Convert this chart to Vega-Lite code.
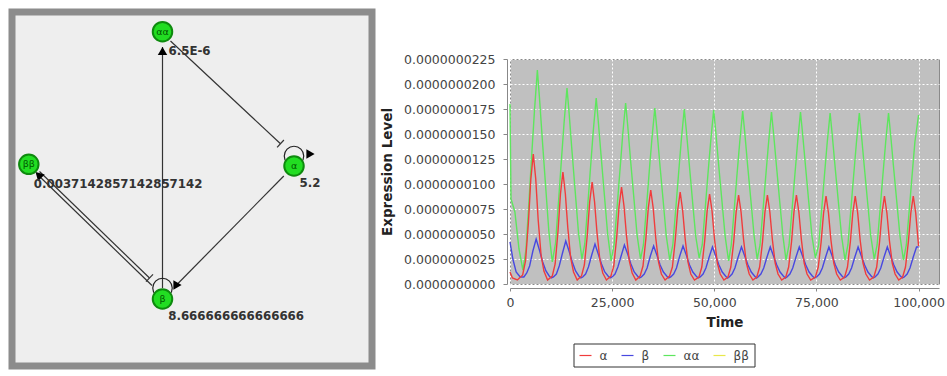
{
"$schema": "https://vega.github.io/schema/vega-lite/v6.json",
"background": "white",
"padding": {"left": 8, "top": 8, "right": 0, "bottom": 0},
"config": {"view": {"stroke": null}, "font": "DejaVu Sans"},
"datasets": {
"nodes": [
{"id":"αα","x":150.5,"y":19.7},{"id":"ββ","x":16.8,"y":152.3},{"id":"α","x":282,"y":154},{"id":"β","x":150.5,"y":287}],
"vals": [
{"txt":"6.5E-6","x":156.5,"y":39},{"txt":"0.0037142857142857142","x":21.8,"y":171.7},{"txt":"5.2","x":287.5,"y":171},{"txt":"8.666666666666666","x":156.2,"y":304}],
"edges": [
{"x1":150.5,"y1":276,"x2":150.5,"y2":35},
{"x1":158.5,"y1":29,"x2":268.5,"y2":131.7},
{"x1":265.1,"y1":135.4,"x2":271.9,"y2":128.0},
{"x1":271.8,"y1":164,"x2":163.5,"y2":274},
{"x1":25,"y1":162,"x2":140,"y2":273.5},
{"x1":27.5,"y1":159.5,"x2":137.5,"y2":266},
{"x1":134,"y1":269.6,"x2":141,"y2":262.4}],
"loops": [{"x":282,"y":144},{"x":150.5,"y":276}],
"arrows": [{"x":150.5,"y":39,"a":0},{"x":298.5,"y":142,"a":90},{"x":165.5,"y":273,"a":90},{"x":26.5,"y":163,"a":315}],
"green": [
{"t":0,"v":1.80e-8},{"t":250,"v":0.85e-8},{"t":1200,"v":0.72e-8},{"t":2200,"v":0.35e-8},{"t":3150,"v":0.14e-8},{"t":3900,"v":0.34e-8},{"t":4600,"v":0.80e-8},{"t":5300,"v":1.28e-8},{"t":6000,"v":1.74e-8},{"t":6700,"v":2.14e-8},{"t":7200,"v":1.87e-8},{"t":7900,"v":1.45e-8},{"t":8700,"v":0.99e-8},{"t":9500,"v":0.53e-8},{"t":10350,"v":0.22e-8},
{"t":11150,"v":0.41e-8},{"t":11850,"v":0.81e-8},{"t":12550,"v":1.22e-8},{"t":13250,"v":1.62e-8},{"t":13950,"v":1.96e-8},{"t":14450,"v":1.72e-8},{"t":15150,"v":1.34e-8},{"t":15950,"v":0.93e-8},{"t":16750,"v":0.52e-8},{"t":17600,"v":0.25e-8},
{"t":18300,"v":0.40e-8},{"t":19000,"v":0.77e-8},{"t":19700,"v":1.16e-8},{"t":20400,"v":1.54e-8},{"t":21100,"v":1.86e-8},{"t":21600,"v":1.63e-8},{"t":22300,"v":1.28e-8},{"t":23100,"v":0.89e-8},{"t":23900,"v":0.50e-8},{"t":24750,"v":0.23e-8},
{"t":25500,"v":0.40e-8},{"t":26200,"v":0.76e-8},{"t":26900,"v":1.13e-8},{"t":27600,"v":1.50e-8},{"t":28300,"v":1.81e-8},{"t":28800,"v":1.59e-8},{"t":29500,"v":1.24e-8},{"t":30300,"v":0.87e-8},{"t":31100,"v":0.49e-8},{"t":31950,"v":0.25e-8},
{"t":32650,"v":0.39e-8},{"t":33350,"v":0.74e-8},{"t":34050,"v":1.11e-8},{"t":34750,"v":1.46e-8},{"t":35450,"v":1.76e-8},{"t":35950,"v":1.55e-8},{"t":36650,"v":1.21e-8},{"t":37450,"v":0.85e-8},{"t":38250,"v":0.48e-8},{"t":39100,"v":0.24e-8},
{"t":39850,"v":0.39e-8},{"t":40550,"v":0.74e-8},{"t":41250,"v":1.10e-8},{"t":41950,"v":1.45e-8},{"t":42650,"v":1.75e-8},{"t":43150,"v":1.54e-8},{"t":43850,"v":1.21e-8},{"t":44650,"v":0.84e-8},{"t":45450,"v":0.48e-8},{"t":46300,"v":0.26e-8},
{"t":47050,"v":0.39e-8},{"t":47750,"v":0.74e-8},{"t":48450,"v":1.10e-8},{"t":49150,"v":1.44e-8},{"t":49850,"v":1.74e-8},{"t":50350,"v":1.53e-8},{"t":51050,"v":1.20e-8},{"t":51850,"v":0.84e-8},{"t":52650,"v":0.48e-8},{"t":53500,"v":0.23e-8},
{"t":54150,"v":0.39e-8},{"t":54850,"v":0.73e-8},{"t":55550,"v":1.09e-8},{"t":56250,"v":1.43e-8},{"t":56950,"v":1.73e-8},{"t":57450,"v":1.52e-8},{"t":58150,"v":1.19e-8},{"t":58950,"v":0.84e-8},{"t":59750,"v":0.48e-8},{"t":60500,"v":0.25e-8},
{"t":61200,"v":0.39e-8},{"t":61900,"v":0.73e-8},{"t":62600,"v":1.08e-8},{"t":63300,"v":1.42e-8},{"t":64000,"v":1.72e-8},{"t":64500,"v":1.51e-8},{"t":65200,"v":1.19e-8},{"t":66000,"v":0.83e-8},{"t":66800,"v":0.48e-8},{"t":67550,"v":0.24e-8},
{"t":68300,"v":0.39e-8},{"t":69000,"v":0.73e-8},{"t":69700,"v":1.08e-8},{"t":70400,"v":1.42e-8},{"t":71100,"v":1.72e-8},{"t":71600,"v":1.51e-8},{"t":72300,"v":1.19e-8},{"t":73100,"v":0.83e-8},{"t":73900,"v":0.48e-8},{"t":74750,"v":0.26e-8},
{"t":75550,"v":0.39e-8},{"t":76250,"v":0.73e-8},{"t":76950,"v":1.08e-8},{"t":77650,"v":1.42e-8},{"t":78350,"v":1.71e-8},{"t":78850,"v":1.50e-8},{"t":79550,"v":1.18e-8},{"t":80350,"v":0.83e-8},{"t":81150,"v":0.48e-8},{"t":82000,"v":0.24e-8},
{"t":82700,"v":0.39e-8},{"t":83400,"v":0.73e-8},{"t":84100,"v":1.08e-8},{"t":84800,"v":1.42e-8},{"t":85500,"v":1.71e-8},{"t":86000,"v":1.50e-8},{"t":86700,"v":1.18e-8},{"t":87500,"v":0.83e-8},{"t":88300,"v":0.48e-8},{"t":89150,"v":0.25e-8},
{"t":89850,"v":0.39e-8},{"t":90550,"v":0.73e-8},{"t":91250,"v":1.08e-8},{"t":91950,"v":1.42e-8},{"t":92650,"v":1.71e-8},{"t":93150,"v":1.50e-8},{"t":93850,"v":1.18e-8},{"t":94650,"v":0.83e-8},{"t":95450,"v":0.48e-8},{"t":96300,"v":0.24e-8},
{"t":97000,"v":0.39e-8},{"t":97700,"v":0.73e-8},{"t":98400,"v":1.08e-8},{"t":99100,"v":1.42e-8},{"t":100000,"v":1.69e-8}],
"red": [
{"t":0,"v":0.12e-8},{"t":600,"v":0.06e-8},{"t":1800,"v":0.04e-8},{"t":3100,"v":0.09e-8},{"t":3800,"v":0.23e-8},{"t":4500,"v":0.61e-8},{"t":5100,"v":1.05e-8},{"t":5700,"v":1.30e-8},{"t":6300,"v":1.05e-8},{"t":6900,"v":0.64e-8},{"t":7600,"v":0.29e-8},{"t":8300,"v":0.13e-8},{"t":9200,"v":0.04e-8},
{"t":10350,"v":0.08e-8},{"t":11050,"v":0.20e-8},{"t":11750,"v":0.53e-8},{"t":12350,"v":0.90e-8},{"t":12950,"v":1.12e-8},{"t":13550,"v":0.90e-8},{"t":14150,"v":0.56e-8},{"t":14850,"v":0.26e-8},{"t":15550,"v":0.12e-8},{"t":16450,"v":0.04e-8},
{"t":17500,"v":0.08e-8},{"t":18200,"v":0.19e-8},{"t":18900,"v":0.48e-8},{"t":19500,"v":0.82e-8},{"t":20100,"v":1.02e-8},{"t":20700,"v":0.82e-8},{"t":21300,"v":0.51e-8},{"t":22000,"v":0.24e-8},{"t":22700,"v":0.11e-8},{"t":23600,"v":0.04e-8},
{"t":24700,"v":0.08e-8},{"t":25400,"v":0.18e-8},{"t":26100,"v":0.46e-8},{"t":26700,"v":0.78e-8},{"t":27300,"v":0.97e-8},{"t":27900,"v":0.78e-8},{"t":28500,"v":0.49e-8},{"t":29200,"v":0.23e-8},{"t":29900,"v":0.11e-8},{"t":30800,"v":0.04e-8},
{"t":31850,"v":0.08e-8},{"t":32550,"v":0.18e-8},{"t":33250,"v":0.45e-8},{"t":33850,"v":0.76e-8},{"t":34450,"v":0.94e-8},{"t":35050,"v":0.76e-8},{"t":35650,"v":0.47e-8},{"t":36350,"v":0.22e-8},{"t":37050,"v":0.10e-8},{"t":37950,"v":0.04e-8},
{"t":39050,"v":0.08e-8},{"t":39750,"v":0.17e-8},{"t":40450,"v":0.44e-8},{"t":41050,"v":0.74e-8},{"t":41650,"v":0.92e-8},{"t":42250,"v":0.74e-8},{"t":42850,"v":0.46e-8},{"t":43550,"v":0.22e-8},{"t":44250,"v":0.10e-8},{"t":45150,"v":0.04e-8},
{"t":46250,"v":0.07e-8},{"t":46950,"v":0.17e-8},{"t":47650,"v":0.43e-8},{"t":48250,"v":0.73e-8},{"t":48850,"v":0.90e-8},{"t":49450,"v":0.73e-8},{"t":50050,"v":0.45e-8},{"t":50750,"v":0.21e-8},{"t":51450,"v":0.10e-8},{"t":52350,"v":0.04e-8},
{"t":53350,"v":0.07e-8},{"t":54050,"v":0.17e-8},{"t":54750,"v":0.42e-8},{"t":55350,"v":0.72e-8},{"t":55950,"v":0.89e-8},{"t":56550,"v":0.72e-8},{"t":57150,"v":0.45e-8},{"t":57850,"v":0.21e-8},{"t":58550,"v":0.10e-8},{"t":59450,"v":0.04e-8},
{"t":60400,"v":0.07e-8},{"t":61100,"v":0.17e-8},{"t":61800,"v":0.42e-8},{"t":62400,"v":0.72e-8},{"t":63000,"v":0.89e-8},{"t":63600,"v":0.72e-8},{"t":64200,"v":0.45e-8},{"t":64900,"v":0.21e-8},{"t":65600,"v":0.10e-8},{"t":66500,"v":0.04e-8},
{"t":67500,"v":0.07e-8},{"t":68200,"v":0.17e-8},{"t":68900,"v":0.42e-8},{"t":69500,"v":0.72e-8},{"t":70100,"v":0.89e-8},{"t":70700,"v":0.72e-8},{"t":71300,"v":0.45e-8},{"t":72000,"v":0.21e-8},{"t":72700,"v":0.10e-8},{"t":73600,"v":0.04e-8},
{"t":74750,"v":0.07e-8},{"t":75450,"v":0.17e-8},{"t":76150,"v":0.42e-8},{"t":76750,"v":0.71e-8},{"t":77350,"v":0.88e-8},{"t":77950,"v":0.71e-8},{"t":78550,"v":0.44e-8},{"t":79250,"v":0.21e-8},{"t":79950,"v":0.10e-8},{"t":80850,"v":0.04e-8},
{"t":81900,"v":0.07e-8},{"t":82600,"v":0.17e-8},{"t":83300,"v":0.42e-8},{"t":83900,"v":0.71e-8},{"t":84500,"v":0.88e-8},{"t":85100,"v":0.71e-8},{"t":85700,"v":0.44e-8},{"t":86400,"v":0.21e-8},{"t":87100,"v":0.10e-8},{"t":88000,"v":0.04e-8},
{"t":89050,"v":0.07e-8},{"t":89750,"v":0.17e-8},{"t":90450,"v":0.42e-8},{"t":91050,"v":0.71e-8},{"t":91650,"v":0.88e-8},{"t":92250,"v":0.71e-8},{"t":92850,"v":0.44e-8},{"t":93550,"v":0.21e-8},{"t":94250,"v":0.10e-8},{"t":95150,"v":0.04e-8},
{"t":96100,"v":0.07e-8},{"t":96800,"v":0.17e-8},{"t":97500,"v":0.42e-8},{"t":98100,"v":0.71e-8},{"t":98700,"v":0.88e-8},{"t":99300,"v":0.71e-8},{"t":100000,"v":0.38e-8}],
"blue": [
{"t":0,"v":0.42e-8},{"t":700,"v":0.25e-8},{"t":1500,"v":0.12e-8},{"t":2500,"v":0.07e-8},{"t":3400,"v":0.07e-8},{"t":4100,"v":0.11e-8},{"t":4800,"v":0.18e-8},{"t":5600,"v":0.33e-8},{"t":6400,"v":0.45e-8},{"t":7200,"v":0.34e-8},{"t":8000,"v":0.22e-8},{"t":8800,"v":0.13e-8},{"t":9600,"v":0.08e-8},{"t":10100,"v":0.06e-8},
{"t":10650,"v":0.07e-8},{"t":11350,"v":0.10e-8},{"t":12050,"v":0.18e-8},{"t":12850,"v":0.31e-8},{"t":13650,"v":0.43e-8},{"t":14450,"v":0.33e-8},{"t":15250,"v":0.22e-8},{"t":16050,"v":0.13e-8},{"t":16850,"v":0.08e-8},{"t":17350,"v":0.06e-8},
{"t":17800,"v":0.07e-8},{"t":18500,"v":0.10e-8},{"t":19200,"v":0.17e-8},{"t":20000,"v":0.29e-8},{"t":20800,"v":0.40e-8},{"t":21600,"v":0.30e-8},{"t":22400,"v":0.20e-8},{"t":23200,"v":0.12e-8},{"t":24000,"v":0.08e-8},{"t":24500,"v":0.06e-8},
{"t":25000,"v":0.07e-8},{"t":25700,"v":0.10e-8},{"t":26400,"v":0.17e-8},{"t":27200,"v":0.28e-8},{"t":28000,"v":0.39e-8},{"t":28800,"v":0.30e-8},{"t":29600,"v":0.20e-8},{"t":30400,"v":0.12e-8},{"t":31200,"v":0.08e-8},{"t":31700,"v":0.06e-8},
{"t":32150,"v":0.07e-8},{"t":32850,"v":0.10e-8},{"t":33550,"v":0.16e-8},{"t":34350,"v":0.28e-8},{"t":35150,"v":0.38e-8},{"t":35950,"v":0.29e-8},{"t":36750,"v":0.19e-8},{"t":37550,"v":0.12e-8},{"t":38350,"v":0.08e-8},{"t":38850,"v":0.06e-8},
{"t":39350,"v":0.07e-8},{"t":40050,"v":0.10e-8},{"t":40750,"v":0.16e-8},{"t":41550,"v":0.28e-8},{"t":42350,"v":0.38e-8},{"t":43150,"v":0.29e-8},{"t":43950,"v":0.19e-8},{"t":44750,"v":0.12e-8},{"t":45550,"v":0.08e-8},{"t":46050,"v":0.06e-8},
{"t":46550,"v":0.07e-8},{"t":47250,"v":0.10e-8},{"t":47950,"v":0.16e-8},{"t":48750,"v":0.27e-8},{"t":49550,"v":0.37e-8},{"t":50350,"v":0.28e-8},{"t":51150,"v":0.19e-8},{"t":51950,"v":0.12e-8},{"t":52750,"v":0.08e-8},{"t":53250,"v":0.06e-8},
{"t":53650,"v":0.07e-8},{"t":54350,"v":0.10e-8},{"t":55050,"v":0.16e-8},{"t":55850,"v":0.27e-8},{"t":56650,"v":0.37e-8},{"t":57450,"v":0.28e-8},{"t":58250,"v":0.19e-8},{"t":59050,"v":0.12e-8},{"t":59850,"v":0.08e-8},{"t":60350,"v":0.06e-8},
{"t":60700,"v":0.07e-8},{"t":61400,"v":0.10e-8},{"t":62100,"v":0.16e-8},{"t":62900,"v":0.27e-8},{"t":63700,"v":0.37e-8},{"t":64500,"v":0.28e-8},{"t":65300,"v":0.19e-8},{"t":66100,"v":0.12e-8},{"t":66900,"v":0.08e-8},{"t":67400,"v":0.06e-8},
{"t":67800,"v":0.07e-8},{"t":68500,"v":0.10e-8},{"t":69200,"v":0.16e-8},{"t":70000,"v":0.27e-8},{"t":70800,"v":0.37e-8},{"t":71600,"v":0.28e-8},{"t":72400,"v":0.19e-8},{"t":73200,"v":0.12e-8},{"t":74000,"v":0.08e-8},{"t":74500,"v":0.06e-8},
{"t":75050,"v":0.07e-8},{"t":75750,"v":0.10e-8},{"t":76450,"v":0.16e-8},{"t":77250,"v":0.27e-8},{"t":78050,"v":0.37e-8},{"t":78850,"v":0.28e-8},{"t":79650,"v":0.19e-8},{"t":80450,"v":0.12e-8},{"t":81250,"v":0.08e-8},{"t":81750,"v":0.06e-8},
{"t":82200,"v":0.07e-8},{"t":82900,"v":0.10e-8},{"t":83600,"v":0.16e-8},{"t":84400,"v":0.27e-8},{"t":85200,"v":0.37e-8},{"t":86000,"v":0.28e-8},{"t":86800,"v":0.19e-8},{"t":87600,"v":0.12e-8},{"t":88400,"v":0.08e-8},{"t":88900,"v":0.06e-8},
{"t":89350,"v":0.07e-8},{"t":90050,"v":0.10e-8},{"t":90750,"v":0.16e-8},{"t":91550,"v":0.27e-8},{"t":92350,"v":0.37e-8},{"t":93150,"v":0.28e-8},{"t":93950,"v":0.19e-8},{"t":94750,"v":0.12e-8},{"t":95550,"v":0.08e-8},{"t":96050,"v":0.06e-8},
{"t":96500,"v":0.07e-8},{"t":97200,"v":0.10e-8},{"t":97900,"v":0.16e-8},{"t":98700,"v":0.27e-8},{"t":99500,"v":0.37e-8},{"t":100000,"v":0.37e-8}]
},
"spacing": 4,
"hconcat": [
{
"width": 360, "height": 354,
"view": {"fill": "#eeeeee", "stroke": "#8c8c8c", "strokeWidth": 7},
"encoding": {
"x": {"field": "x", "type": "quantitative", "scale": {"domain": [0, 360], "nice": false, "zero": false}, "axis": null},
"y": {"field": "y", "type": "quantitative", "scale": {"domain": [0, 354], "nice": false, "zero": false, "reverse": true}, "axis": null}
},
"layer": [
{"data": {"name": "edges"}, "mark": {"type": "rule", "color": "#333333", "strokeWidth": 1.2},
 "encoding": {"x": {"field": "x1", "type": "quantitative"}, "y": {"field": "y1", "type": "quantitative"}, "x2": {"field": "x2"}, "y2": {"field": "y2"}}},
{"data": {"name": "loops"}, "mark": {"type": "point", "shape": "circle", "filled": false, "stroke": "#222222", "strokeWidth": 1.2, "size": 380, "opacity": 1}},
{"data": {"name": "arrows"}, "mark": {"type": "point", "shape": "triangle-up", "filled": true, "color": "#000000", "size": 90, "opacity": 1},
 "encoding": {"angle": {"field": "a", "type": "quantitative", "scale": null}}},
{"data": {"name": "nodes"}, "mark": {"type": "point", "shape": "circle", "filled": true, "fill": "#22dd22", "stroke": "#0e8a0e", "strokeWidth": 2, "size": 380, "opacity": 1}},
{"data": {"name": "nodes"}, "mark": {"type": "text", "fontSize": 9.5, "color": "#005500", "align": "center", "baseline": "middle", "font": "DejaVu Sans"},
 "encoding": {"text": {"field": "id"}}},
{"data": {"name": "vals"}, "mark": {"type": "text", "fontSize": 11.8, "fontWeight": "bold", "color": "#333333", "align": "left", "baseline": "middle", "font": "DejaVu Sans"},
 "encoding": {"text": {"field": "txt"}}}
]
},
{
"spacing": 10,
"vconcat": [
{"width": 429, "height": 30, "data": {"values": [{"k": 1}]}, "mark": {"type": "point", "opacity": 0}},
{
"width": 429, "height": 225,
"view": {"fill": "#c0c0c0", "stroke": "#8a8a8a", "strokeWidth": 1},
"encoding": {
"x": {"field": "t", "type": "quantitative", "scale": {"domain": [0, 105000], "nice": false, "zero": false},
 "axis": {"title": "Time", "values": [0, 25000, 50000, 75000, 100000], "format": ",d", "labelFlush": false, "labelFont": "DejaVu Sans", "labelFontSize": 12.5, "labelColor": "#444444", "tickColor": "#888888", "domainColor": "#888888", "offset": 4, "tickSize": 3, "labelPadding": 5, "grid": true, "gridColor": "#ffffff", "gridDash": [2, 2], "gridOpacity": 1, "titleFont": "DejaVu Sans", "titleFontSize": 13.5, "titleFontWeight": "bold", "titleColor": "#222222", "titlePadding": 7}},
"y": {"field": "v", "type": "quantitative", "scale": {"domain": [0, 2.25e-8], "nice": false, "zero": true},
 "axis": {"title": "Expression Level", "values": [0, 0.25e-8, 0.5e-8, 0.75e-8, 1.0e-8, 1.25e-8, 1.5e-8, 1.75e-8, 2.0e-8, 2.25e-8], "format": ".10f", "labelFlush": false, "labelOverlap": false, "labelFont": "DejaVu Sans", "labelFontSize": 12.5, "labelColor": "#444444", "tickColor": "#888888", "domainColor": "#888888", "offset": 3, "tickSize": 4, "labelPadding": 8, "grid": true, "gridColor": "#ffffff", "gridDash": [2, 2], "gridOpacity": 1, "titleFont": "DejaVu Sans", "titleFontSize": 13.5, "titleFontWeight": "bold", "titleColor": "#222222", "titlePadding": 9}}
},
"layer": [
{"data": {"name": "green"}, "mark": {"type": "line", "strokeWidth": 1.4},
 "encoding": {"color": {"datum": "αα", "type": "nominal", "scale": {"domain": ["α", "β", "αα", "ββ"], "range": ["#f03c3c", "#4848e0", "#5ee65e", "#e8e84a"]},
  "legend": {"orient": "none", "legendX": 561.5, "legendY": 331.5, "direction": "horizontal", "title": null, "symbolType": "stroke", "symbolSize": 144, "symbolStrokeWidth": 1.2, "labelFont": "DejaVu Sans", "labelFontSize": 12, "labelColor": "#444444", "strokeColor": "#333333", "fillColor": "#ffffff", "padding": 5, "columnPadding": 11, "labelOffset": 7, "values": ["α", "β", "αα", "ββ"]}}}},
{"data": {"name": "blue"}, "mark": {"type": "line", "strokeWidth": 1.4},
 "encoding": {"color": {"datum": "β", "type": "nominal"}}},
{"data": {"name": "red"}, "mark": {"type": "line", "strokeWidth": 1.4},
 "encoding": {"color": {"datum": "α", "type": "nominal"}}}
]
}
]
}
]
}
